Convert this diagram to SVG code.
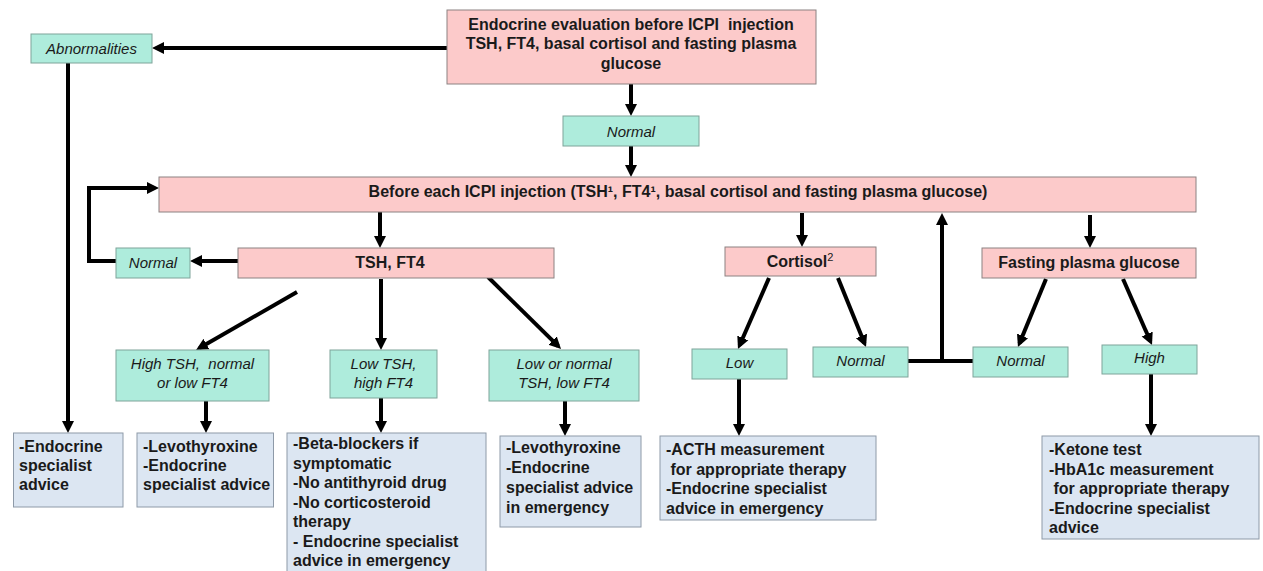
<svg xmlns="http://www.w3.org/2000/svg" width="1263" height="571" viewBox="0 0 1263 571">
<style>
text{font-family:"Liberation Sans",Arial,sans-serif;fill:#1a1a1a}
.pk{fill:#fccaca;stroke:#8c8282;stroke-width:1}
.tl{fill:#aeecdc;stroke:#7fa49a;stroke-width:1}
.bl{fill:#dce6f2;stroke:#8e9aa8;stroke-width:1}
.b{font-weight:bold;font-size:16px}
.i{font-style:italic;font-size:15px}
.c{text-anchor:middle}
.cn path,.cn line,.cn polyline{fill:none;stroke:#000;stroke-width:4}
</style>
<defs>
<marker id="ah" markerUnits="userSpaceOnUse" markerWidth="13" markerHeight="13" viewBox="0 0 13 13" refX="8" refY="6.5" orient="auto">
<path d="M0,0.5 L12,6.5 L0,12.5 z" fill="#000"/>
</marker>
</defs>
<rect width="1263" height="571" fill="#fff"/>

<g class="cn">
<line x1="447" y1="48" x2="156" y2="48" marker-end="url(#ah)"/>
<line x1="68" y1="63" x2="68" y2="429" marker-end="url(#ah)"/>
<line x1="631" y1="84" x2="631" y2="112" marker-end="url(#ah)"/>
<line x1="631" y1="146" x2="631" y2="173" marker-end="url(#ah)"/>
<line x1="380" y1="212" x2="380" y2="244" marker-end="url(#ah)"/>
<line x1="238" y1="261" x2="194" y2="261" marker-end="url(#ah)"/>
<polyline points="116,261 89,261 89,188 155,188" marker-end="url(#ah)"/>
<line x1="802" y1="213" x2="802" y2="243" marker-end="url(#ah)"/>
<line x1="1090" y1="215" x2="1090" y2="244" marker-end="url(#ah)"/>
<polyline points="908,361 973,361"/>
<line x1="942" y1="361" x2="942" y2="217" marker-end="url(#ah)"/>
<line x1="297" y1="292" x2="199.5" y2="348" marker-end="url(#ah)"/>
<line x1="381" y1="279" x2="381" y2="346" marker-end="url(#ah)"/>
<line x1="488" y1="277" x2="558.2" y2="346.2" marker-end="url(#ah)"/>
<line x1="769" y1="278" x2="739.6" y2="345.3" marker-end="url(#ah)"/>
<line x1="838" y1="278" x2="864.5" y2="343.3" marker-end="url(#ah)"/>
<line x1="1046" y1="279" x2="1019.5" y2="343.3" marker-end="url(#ah)"/>
<line x1="1123" y1="279" x2="1150.4" y2="341.3" marker-end="url(#ah)"/>
<line x1="206" y1="401" x2="206" y2="429" marker-end="url(#ah)"/>
<line x1="381" y1="398" x2="381" y2="429" marker-end="url(#ah)"/>
<line x1="565" y1="401" x2="565" y2="432" marker-end="url(#ah)"/>
<line x1="739" y1="379" x2="739" y2="432" marker-end="url(#ah)"/>
<line x1="1151" y1="374" x2="1151" y2="432" marker-end="url(#ah)"/>
</g>

<g id="top">
<rect class="pk" x="447" y="10" width="369" height="74"/>
<text class="b c" x="631" y="29.5" xml:space="preserve">Endocrine evaluation before ICPI  injection</text>
<text class="b c" x="631" y="49">TSH, FT4, basal cortisol and fasting plasma</text>
<text class="b c" x="631" y="68.5">glucose</text>
</g>
<g id="abnormalities">
<rect class="tl" x="31" y="34" width="121" height="29"/>
<text class="i c" x="91.5" y="54">Abnormalities</text>
</g>
<g id="normal-top">
<rect class="tl" x="563" y="116" width="136" height="30"/>
<text class="i c" x="631" y="136.5">Normal</text>
</g>
<g id="before">
<rect class="pk" x="159" y="177" width="1037" height="35"/>
<text class="b c" x="678" y="197">Before each ICPI injection (TSH¹, FT4¹, basal cortisol and fasting plasma glucose)</text>
</g>
<g id="tsh">
<rect class="pk" x="238" y="248" width="316" height="30"/>
<text class="b c" x="390" y="268">TSH, FT4</text>
</g>
<g id="normal-left">
<rect class="tl" x="116" y="248" width="74" height="30"/>
<text class="i c" x="153" y="268">Normal</text>
</g>
<g id="cortisol">
<rect class="pk" x="725" y="247" width="151" height="29"/>
<text class="b c" x="800" y="267">Cortisol<tspan font-weight="normal" font-size="11" dy="-6">2</tspan></text>
</g>
<g id="fasting">
<rect class="pk" x="982" y="248" width="214" height="30"/>
<text class="b c" x="1089" y="268">Fasting plasma glucose</text>
</g>
<g id="high-tsh">
<rect class="tl" x="116" y="350" width="153" height="51"/>
<text class="i c" x="192.5" y="369" xml:space="preserve">High TSH,  normal</text>
<text class="i c" x="192.5" y="388">or low FT4</text>
</g>
<g id="low-tsh">
<rect class="tl" x="330" y="350" width="107" height="48"/>
<text class="i c" x="383.5" y="369">Low TSH,</text>
<text class="i c" x="383.5" y="388">high FT4</text>
</g>
<g id="lownormal-tsh">
<rect class="tl" x="489" y="350" width="150" height="51"/>
<text class="i c" x="564" y="369">Low or normal</text>
<text class="i c" x="564" y="388">TSH, low FT4</text>
</g>
<g id="cort-low">
<rect class="tl" x="692" y="349" width="95" height="30"/>
<text class="i c" x="739.5" y="368">Low</text>
</g>
<g id="cort-normal">
<rect class="tl" x="813" y="347" width="95" height="30"/>
<text class="i c" x="860.5" y="366">Normal</text>
</g>
<g id="gluc-normal">
<rect class="tl" x="973" y="347" width="95" height="30"/>
<text class="i c" x="1020.5" y="366">Normal</text>
</g>
<g id="gluc-high">
<rect class="tl" x="1102" y="345" width="95" height="29"/>
<text class="i c" x="1149.5" y="363">High</text>
</g>
<g id="act-abn">
<rect class="bl" x="13.5" y="433" width="109.5" height="74"/>
<text class="b" x="19" y="452">-Endocrine</text>
<text class="b" x="19" y="471">specialist</text>
<text class="b" x="19" y="490">advice</text>
</g>
<g id="act-high-tsh">
<rect class="bl" x="137" y="433" width="136.5" height="74"/>
<text class="b" x="143" y="452">-Levothyroxine</text>
<text class="b" x="143" y="471">-Endocrine</text>
<text class="b" x="143" y="490">specialist advice</text>
</g>
<g id="act-low-tsh">
<rect class="bl" x="287" y="433" width="199" height="150"/>
<text class="b" x="293" y="449">-Beta-blockers if</text>
<text class="b" x="293" y="468.5">symptomatic</text>
<text class="b" x="293" y="488">-No antithyroid drug</text>
<text class="b" x="293" y="507.5">-No corticosteroid</text>
<text class="b" x="293" y="527">therapy</text>
<text class="b" x="293" y="546.5">- Endocrine specialist</text>
<text class="b" x="293" y="566">advice in emergency</text>
</g>
<g id="act-lownormal">
<rect class="bl" x="500" y="436" width="141" height="91"/>
<text class="b" x="506" y="453">-Levothyroxine</text>
<text class="b" x="506" y="473">-Endocrine</text>
<text class="b" x="506" y="493">specialist advice</text>
<text class="b" x="506" y="513">in emergency</text>
</g>
<g id="act-acth">
<rect class="bl" x="660" y="436" width="216" height="84"/>
<text class="b" x="666" y="455">-ACTH measurement</text>
<text class="b" x="666" y="475" xml:space="preserve"> for appropriate therapy</text>
<text class="b" x="666" y="494">-Endocrine specialist</text>
<text class="b" x="666" y="514">advice in emergency</text>
</g>
<g id="act-ketone">
<rect class="bl" x="1042" y="436" width="217" height="103"/>
<text class="b" x="1049" y="455">-Ketone test</text>
<text class="b" x="1049" y="475">-HbA1c measurement</text>
<text class="b" x="1049" y="494" xml:space="preserve"> for appropriate therapy</text>
<text class="b" x="1049" y="514">-Endocrine specialist</text>
<text class="b" x="1049" y="533">advice</text>
</g>
</svg>
